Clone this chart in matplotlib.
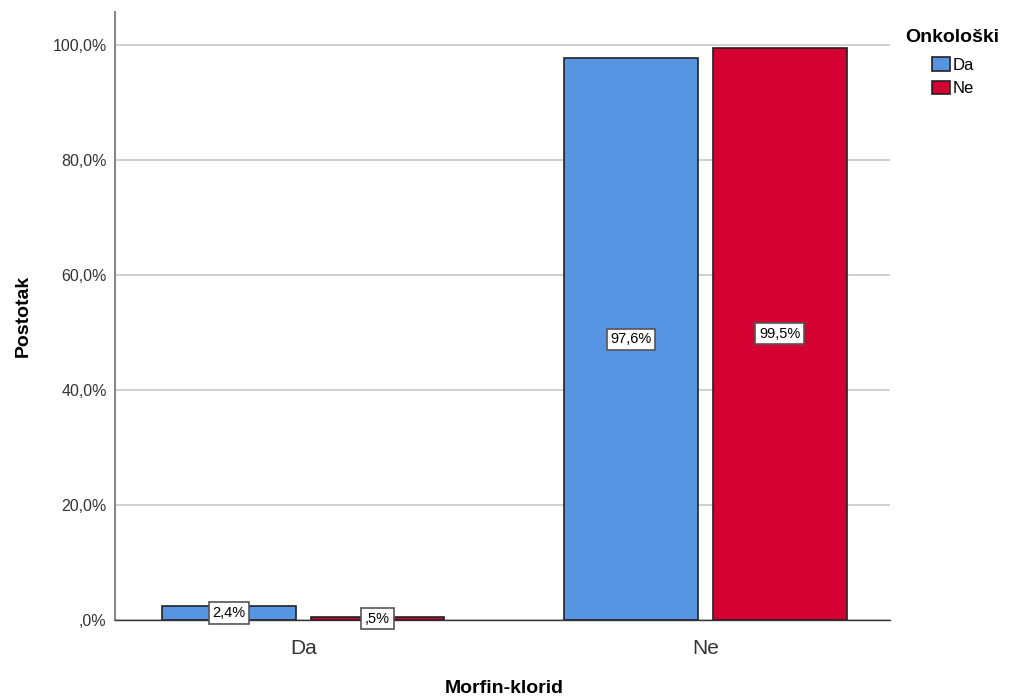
import matplotlib.pyplot as plt
import numpy as np

plt.rcParams['font.family'] = ['Liberation Sans', 'DejaVu Sans']

categories = ['Da', 'Ne']
groups = ['Da', 'Ne']
values_da = [2.4, 97.6]
values_ne = [0.5, 99.5]
labels_da = ['2,4%', '97,6%']
labels_ne = [',5%', '99,5%']
yticks = [0, 20, 40, 60, 80, 100]
ytick_labels = [',0%', '20,0%', '40,0%', '60,0%', '80,0%', '100,0%']

fig = plt.figure(figsize=(10.15, 7), dpi=100)
ax = fig.add_axes([0.1133, 0.1143, 0.7637, 0.8687])

x = np.arange(len(categories))
w = 0.333
off = 0.185
colors = ['#5795E3', '#D50032']

b1 = ax.bar(x - off, values_da, w, color=colors[0], edgecolor='#222222', linewidth=1.2, label=groups[0], zorder=3)
b2 = ax.bar(x + off, values_ne, w, color=colors[1], edgecolor='#222222', linewidth=1.2, label=groups[1], zorder=3)

box = dict(boxstyle='square,pad=0.25', facecolor='white', edgecolor='#555555', linewidth=1.2)
for bars, labs in [(b1, labels_da), (b2, labels_ne)]:
    for rect, lab in zip(bars, labs):
        cx = rect.get_x() + rect.get_width() / 2
        cy = rect.get_height() / 2
        ax.text(cx, cy, lab, ha='center', va='center', fontsize=10.5, bbox=box, zorder=5)

ax.set_xlim(-0.468, 1.46)
ax.set_ylim(0, 105.7)
ax.set_xticks(x)
ax.set_xticklabels(categories, fontsize=15, color='#333333')
ax.set_yticks(yticks)
ax.set_yticklabels(ytick_labels, fontsize=11.5, color='#333333')
ax.tick_params(length=0)
ax.tick_params(axis='x', pad=14)
ax.tick_params(axis='y', pad=6)
ax.grid(axis='y', color='#c8c8c8', linewidth=1.2, zorder=0)
ax.set_axisbelow(True)

for s in ['top', 'right']:
    ax.spines[s].set_visible(False)
ax.spines['left'].set_color('#888888')
ax.spines['left'].set_linewidth(1.5)
ax.spines['bottom'].set_color('#333333')
ax.spines['bottom'].set_linewidth(1)

ax.set_xlabel('Morfin-klorid', fontsize=14, fontweight='bold', va='center')
ax.xaxis.set_label_coords(0.502, -0.112)
ax.set_ylabel('Postotak', fontsize=14, fontweight='bold', va='center')
ax.yaxis.set_label_coords(-0.118, 0.5)

fig.text(0.8916, 0.946, 'Onkološki', fontsize=14, fontweight='bold', ha='left', va='center')
leg = ax.legend(loc='upper left', bbox_to_anchor=(0.918, 0.918), bbox_transform=fig.transFigure,
                frameon=False, fontsize=12, handlelength=1.1, handleheight=0.9,
                handletextpad=0.15, labelspacing=0.45, borderaxespad=0, borderpad=0)

fig.savefig('out.png', dpi=100)
